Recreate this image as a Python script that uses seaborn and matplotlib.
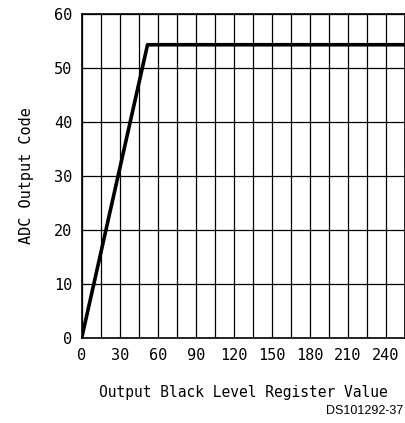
import numpy as np
import matplotlib
matplotlib.use("Agg")
import matplotlib.pyplot as plt
import pandas as pd
import seaborn as sns
from matplotlib.ticker import MultipleLocator

# transfer curve: rises to saturation, then flat
reg_value = [0, 52, 255]
adc_code = [0, 54.3, 54.3]

x_ticks = [0, 30, 60, 90, 120, 150, 180, 210, 240]
y_ticks = [0, 10, 20, 30, 40, 50, 60]

sns.set_style("white")
plt.rcParams['font.family'] = ['DejaVu Sans Mono']

fig = plt.figure(figsize=(4.05, 4.23), dpi=100)
ax = fig.add_axes([0.2017, 0.201, 0.7973, 0.766])

data = pd.DataFrame({'x': reg_value, 'y': adc_code})
sns.lineplot(data=data, x='x', y='y', ax=ax, color='black', linewidth=2.6)

ax.set_xlim(0, 255)
ax.set_ylim(0, 60)
ax.set_xticks(x_ticks)
ax.set_yticks(y_ticks)
ax.xaxis.set_minor_locator(MultipleLocator(15))
ax.grid(True, which='both', axis='x', color='black', linewidth=0.9)
ax.grid(True, which='major', axis='y', color='black', linewidth=0.9)
ax.set_axisbelow(True)
ax.tick_params(which='both', length=0, labelsize=11, colors='black', pad=7)
for s in ax.spines.values():
    s.set_color('black')
    s.set_linewidth(1.2)

ax.set_xlabel('Output Black Level Register Value', fontsize=10.5, labelpad=16,
              color='black')
ax.set_ylabel('ADC Output Code', fontsize=11, labelpad=14, color='black')

fig.text(0.995, 0.015, 'DS101292-37', ha='right', va='bottom', fontsize=9,
         family=['Liberation Sans'], color='black')

plt.savefig('out.png', dpi=100)
